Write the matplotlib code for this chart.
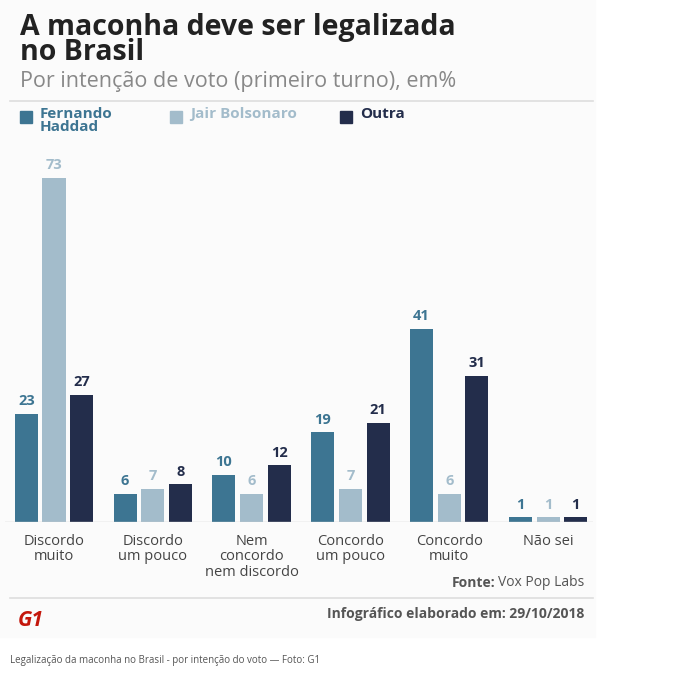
import matplotlib
matplotlib.use("Agg")
import matplotlib.pyplot as plt
import numpy as np

categories = ["Discordo\nmuito", "Discordo\num pouco", "Nem\nconcordo\nnem discordo",
              "Concordo\num pouco", "Concordo\nmuito", "Não sei"]
haddad = [23, 6, 10, 19, 41, 1]
bolsonaro = [73, 7, 6, 7, 6, 1]
outra = [27, 8, 12, 21, 31, 1]
series = [("Fernando\nHaddad", haddad, "#3d7592"),
          ("Jair Bolsonaro", bolsonaro, "#a3bccb"),
          ("Outra", outra, "#232d4b")]

W, H = 683, 677
fig = plt.figure(figsize=(W/100, H/100), dpi=100)
fig.patch.set_facecolor("white")
plt.rcParams['font.family'] = ['Open Sans', 'DejaVu Sans']

def fx(px): return px / W
def fy(py): return 1 - py / H

fig.patches.append(plt.Rectangle((fx(0), fy(637)), fx(595), 637/H, transform=fig.transFigure,
                                 color="#fbfbfb", zorder=-10))

fig.text(fx(20), fy(40), "A maconha deve ser legalizada\nno Brasil", fontsize=20.5, fontweight="bold",
         color="#222222", va="center", linespacing=0.85)
fig.text(fx(20), fy(82), "Por intenção de voto (primeiro turno), em%", fontsize=15.5, color="#888888", va="center")
fig.add_artist(plt.Line2D([fx(10), fx(593)], [fy(101), fy(101)], color="#dddddd", lw=1.2))

leg_x = [20, 170, 340]
for (name, vals, col), lx in zip(series, leg_x):
    fig.patches.append(plt.Rectangle((fx(lx), fy(123)), fx(12), 12/H, transform=fig.transFigure, color=col))
    fig.text(fx(lx + 20), fy(107), name, fontsize=11, fontweight="bold", color=col, va="top", linespacing=0.9)

ax = fig.add_axes([fx(5), fy(522), fx(593 - 5), (522 - 140) / H])
ax.set_facecolor("none")
x = np.arange(len(categories))
bw = 0.233
off = 0.28
for i, (name, vals, col) in enumerate(series):
    xs = x + (i - 1) * off
    ax.bar(xs, vals, width=bw, color=col)
    for xi, v in zip(xs, vals):
        ax.text(xi, v + 1.2, str(v), ha="center", va="bottom", fontsize=10.5, fontweight="bold", color=col)
ax.set_xlim(-0.496, 5.455)
ax.set_ylim(0, 81)
ax.axis("off")
ax.axhline(0, color="#cccccc", lw=1)
for xi, c in zip(x, categories):
    ax.text(xi, -2.5, c, ha="center", va="top", fontsize=10.5, color="#444444", linespacing=1.05)

fig.text(fx(584), fy(583), "Vox Pop Labs", fontsize=10, color="#555555", ha="right", va="center")
fig.text(fx(584 - 89), fy(583), "Fonte:", fontsize=10, fontweight="bold", color="#555555", ha="right", va="center")
fig.add_artist(plt.Line2D([fx(10), fx(593)], [fy(598), fy(598)], color="#dddddd", lw=1.2))
fig.text(fx(18), fy(620), "G1", fontsize=15, fontweight="bold", color="#c4170c", va="center", style="italic")
fig.text(fx(584), fy(614), "Infográfico elaborado em: 29/10/2018", fontsize=10, fontweight="bold",
         color="#555555", ha="right", va="center")
fig.text(fx(10), fy(660), "Legalização da maconha no Brasil - por intenção do voto — Foto: G1",
         fontsize=7, color="#555555", va="center")

fig.savefig("out.png", dpi=100)
